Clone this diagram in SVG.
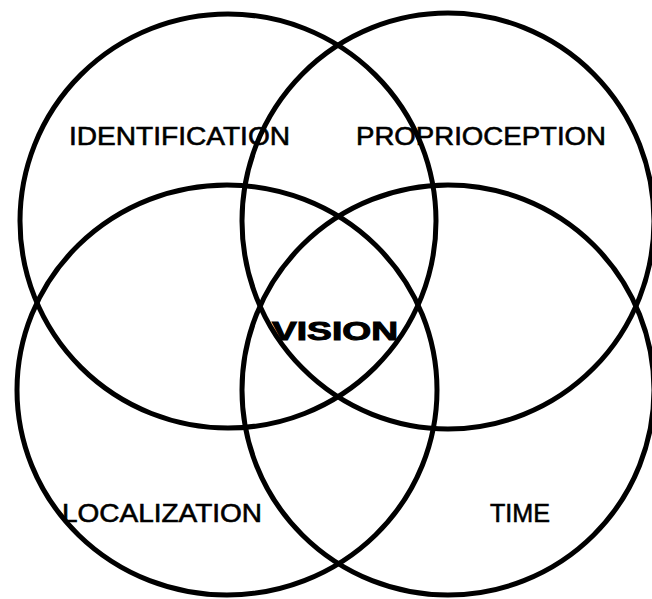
<svg xmlns="http://www.w3.org/2000/svg" width="652" height="599" viewBox="0 0 652 599">
<style>
.c{fill:none;stroke:#000;stroke-width:5}
.t{font-family:"Liberation Sans",Arial,sans-serif;font-size:26px;fill:#000;stroke:#000;stroke-width:0.6}
.b{font-weight:bold;stroke-width:1}
</style>
<rect width="652" height="599" fill="#fff"/>
<g id="circles">
<g id="identification-circle"><ellipse class="c" cx="228" cy="221" rx="208" ry="207"/></g>
<g id="proprioception-circle"><ellipse class="c" cx="448" cy="221" rx="206" ry="208"/></g>
<g id="localization-circle"><ellipse class="c" cx="227" cy="390" rx="210" ry="205"/></g>
<g id="time-circle"><ellipse class="c" cx="448" cy="390" rx="206" ry="205"/></g>
</g>
<g id="labels">
<g id="identification"><text class="t" x="69" y="145" textLength="221" lengthAdjust="spacingAndGlyphs">IDENTIFICATION</text></g>
<g id="proprioception"><text class="t" x="356" y="145" textLength="250" lengthAdjust="spacingAndGlyphs">PROPRIOCEPTION</text></g>
<g id="localization"><text class="t" x="62" y="522" textLength="200" lengthAdjust="spacingAndGlyphs">LOCALIZATION</text></g>
<g id="time"><text class="t" x="490" y="522" textLength="60" lengthAdjust="spacingAndGlyphs">TIME</text></g>
<g id="vision"><text class="t b" x="272" y="340" font-size="30" textLength="126" lengthAdjust="spacingAndGlyphs">VISION</text></g>
</g>
</svg>
